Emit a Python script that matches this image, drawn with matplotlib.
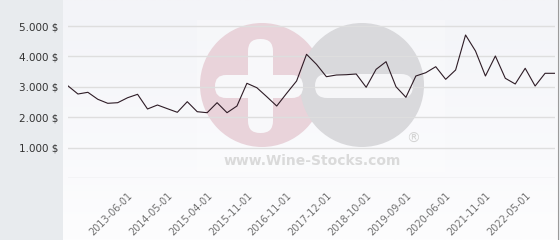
import matplotlib

matplotlib.use("Agg")
import matplotlib.pyplot as plt
import numpy as np
from matplotlib.patches import Circle, FancyBboxPatch, Rectangle

# price per sample (USD)
prices = [
    3030, 2763, 2819, 2589, 2457, 2477, 2641, 2753, 2270, 2401,
    2280, 2161, 2510, 2181, 2148, 2477, 2148, 2368, 3115, 2970,
    2674, 2368, 2786, 3191, 4069, 3740, 3332, 3388, 3398, 3421,
    2984, 3575, 3826, 3003, 2655, 3355, 3464, 3661, 3246, 3553,
    4704, 4178, 3355, 4013, 3280, 3092, 3609, 3026, 3444, 3444,
]
tick_idx = [6, 10, 14, 18, 22, 26, 30, 34, 38, 42, 46]
tick_labels = [
    "2013-06-01", "2014-05-01", "2015-04-01", "2015-11-01", "2016-11-01",
    "2017-12-01", "2018-10-01", "2019-09-01", "2020-06-01", "2021-11-01",
    "2022-05-01",
]
y_levels = [1000, 2000, 3000, 4000, 5000]
y_labels = ["1.000 $", "2.000 $", "3.000 $", "4.000 $", "5.000 $"]

W, H = 560, 240
fig = plt.figure(figsize=(W / 100, H / 100), dpi=100, facecolor="#e8ebee")

# light plot panel with a soft vertical gradient
bg = fig.add_axes([63 / W, 0, (559 - 63) / W, 1], zorder=0)
grad = np.linspace(0, 1, 100).reshape(-1, 1)
bg.imshow(grad, aspect="auto", extent=[0, 1, 0, 1],
          cmap=matplotlib.colors.LinearSegmentedColormap.from_list(
              "bg", ["#fdfdfe", "#f3f4f8"]), origin="lower")
bg.axvline(1, color="#9a9a9a", lw=1.5)
bg.set_xlim(0, 1)
bg.set_ylim(0, 1)
bg.axis("off")

# watermark in pixel coordinates
wm = fig.add_axes([0, 0, 1, 1], zorder=1)
wm.set_xlim(0, W)
wm.set_ylim(H, 0)
wm.axis("off")
wm.add_patch(Rectangle((197, 20), 248, 152, color="white", alpha=0.25, lw=0))
wm.add_patch(Circle((262, 85), 62, color="#e9d3da", lw=0))
wm.add_patch(Circle((362, 85), 62, color="#d9d9dc", lw=0))
wm.add_patch(FancyBboxPatch((248, 39), 25, 94, boxstyle="round,pad=0,rounding_size=12",
                            color="#f8f8fa", lw=0))
wm.add_patch(FancyBboxPatch((215, 75), 88, 23, boxstyle="round,pad=0,rounding_size=11",
                            color="#f8f8fa", lw=0))
wm.add_patch(FancyBboxPatch((315, 74), 98, 24, boxstyle="round,pad=0,rounding_size=12",
                            color="#f6f6f8", lw=0))
wm.text(312, 161, "www.Wine-Stocks.com", ha="center", va="center",
        fontsize=10, fontweight="bold", color="#dadada")
wm.text(413, 139, "®", ha="center", va="center", fontsize=10, color="#d4d4d4")

# the price chart
top_val = 178 / 30.4 * 1000
ax = fig.add_axes([68 / W, (H - 178) / H, (555 - 68) / W, 178 / H], zorder=2)
ax.patch.set_alpha(0)
for lv in [0] + y_levels:
    ax.axhline(lv, color="#dedede", lw=1, zorder=1)
x = np.arange(len(prices))
ax.plot(x, prices, color="#2e1c26", lw=0.8, zorder=3)
ax.set_xlim(0, len(prices) - 1)
ax.set_ylim(0, top_val)
ax.set_yticks(y_levels)
ax.set_yticklabels(y_labels, fontsize=7.5, color="#333333")
ax.set_xticks(tick_idx)
ax.set_xticklabels(tick_labels, fontsize=7, color="#707070",
                   rotation=45, ha="right", rotation_mode="anchor")
ax.tick_params(axis="x", length=0, pad=9)
ax.tick_params(axis="y", length=0, pad=7)
for s in ax.spines.values():
    s.set_visible(False)

fig.savefig("out.png", dpi=100, facecolor=fig.get_facecolor())
